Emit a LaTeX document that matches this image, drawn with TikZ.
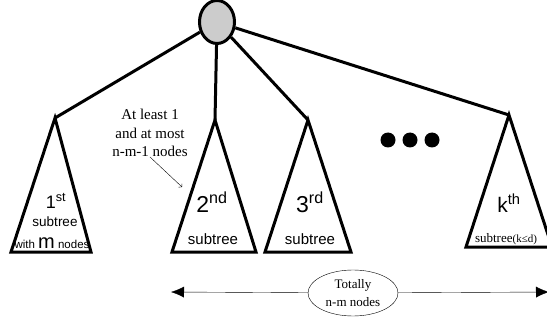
\documentclass[tikz,border=0pt]{standalone}
\usepackage{fontspec}
\setmainfont{Liberation Serif}
\newfontfamily\arialf{Liberation Sans}
\usetikzlibrary{shapes.geometric,arrows.meta}
\tikzset{
  branch/.style={line width=3pt},
  subtree/.style={line width=3pt, line join=miter},
  big/.style={font=\arialf\fontsize{23}{24}\selectfont, inner sep=0pt},
  small/.style={font=\arialf\fontsize{15}{17}\selectfont, inner sep=0pt},
  dot/.style={circle, fill, minimum size=15pt, inner sep=0pt},
}
\begin{document}
\begin{tikzpicture}[x=1pt,y=-1pt]
  \useasboundingbox (0,0) rectangle (547,321);
  \node[draw, ellipse, line width=3pt, fill=gray!40, minimum width=35pt, minimum height=43pt, inner sep=0pt] (root) at (217,22) {};
  \coordinate (t1) at (55,118);
  \coordinate (t2) at (215,120);
  \coordinate (t3) at (308,120);
  \coordinate (tk) at (509,115);
  \draw[subtree] (t1) -- ++(-44,134) -- ++(80,0) -- cycle;
  \draw[subtree] (t2) -- ++(-43,132) -- ++(84,0) -- cycle;
  \draw[subtree] (t3) -- ++(-43,132) -- ++(86,0) -- cycle;
  \draw[subtree] (tk) -- ++(-43,132) -- ++(86,0) -- cycle;
  \draw[branch] (root) -- (t1);
  \draw[branch] (root) -- (t2);
  \draw[branch] (root) -- (t3);
  \draw[branch] (root) -- (tk);
  \node[big, font=\arialf\fontsize{18}{20}\selectfont] (one) at (56,201) {1\textsuperscript{st}};
  \node[small, font=\arialf\fontsize{13.5}{15}\selectfont] (sub1) at (55,222) {subtree};
  \node[small, font=\arialf\fontsize{11.5}{12}\selectfont] (with1) at (52,243) {with {\fontsize{20}{20}\selectfont m} nodes};
  \node[big] (two) at (212,202) {2\textsuperscript{nd}};
  \node[small] (sub2) at (213,239) {subtree};
  \node[big] (three) at (310,202) {3\textsuperscript{rd}};
  \node[small] (sub3) at (310,239) {subtree};
  \node[big, font=\arialf\fontsize{21}{22}\selectfont] (kay) at (509,203) {k\textsuperscript{th}};
  \node[inner sep=0pt, font=\fontsize{13}{14}\selectfont] (subk) at (506,239) {subtree{\fontsize{11}{12}\selectfont(k≤d)}};
  \foreach \x [count=\i] in {388,410,432}
    \node[dot] (dot\i) at (\x,140) {};
  \node[align=center, inner sep=0pt, font=\fontsize{15}{18.5}\selectfont] (note) at (150,133) {At least 1\\and at most\\n-m-1 nodes};
  \coordinate (notetip) at (182,187);
  \draw[->, thin] (note.south) -- (notetip);
  \node[draw, ellipse, thin, minimum width=90pt, minimum height=46pt, inner sep=0pt, align=center, font=\fontsize{13}{18}\selectfont] (total) at (353,293) {Totally\\n-m nodes};
  \coordinate (spanl) at (171,292);
  \coordinate (spanr) at (549,292);
  \draw[-{Latex[length=13pt,width=11pt]}] (total) -- (spanl);
  \draw[-{Latex[length=13pt,width=11pt]}] (total) -- (spanr);
\end{tikzpicture}
\end{document}
